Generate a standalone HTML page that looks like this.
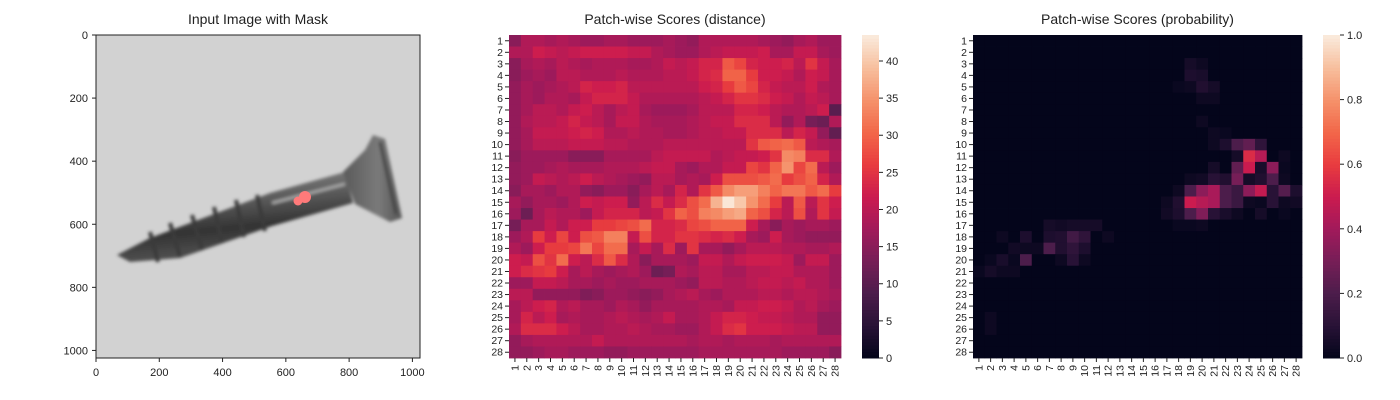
<!DOCTYPE html>
<html><head><meta charset="utf-8">
<style>
html,body{margin:0;padding:0;background:#fff;}
svg{display:block;font-family:"Liberation Sans",Arial,sans-serif;}
</style></head>
<body>
<svg id="fig" width="1400" height="400" viewBox="0 0 1400 400" xmlns="http://www.w3.org/2000/svg">
<defs>
<filter id="blur1"><feGaussianBlur stdDeviation="1.5"/></filter>
<linearGradient id="shaftg" x1="0" y1="0" x2="0.25" y2="1">
<stop offset="0" stop-color="#909090"/><stop offset="0.35" stop-color="#666"/><stop offset="0.7" stop-color="#333"/><stop offset="1" stop-color="#555"/></linearGradient>
<linearGradient id="headg" x1="0" y1="0" x2="1" y2="0">
<stop offset="0" stop-color="#5a5a5a"/><stop offset="0.6" stop-color="#7a7a7a"/><stop offset="1" stop-color="#555"/></linearGradient>
</defs>

<!-- Panel 1 -->
<g>
<text x="258" y="24" font-size="14" text-anchor="middle" fill="#222">Input Image with Mask</text>
<rect x="96" y="35" width="324" height="323" fill="#d2d2d2"/>
<g filter="url(#blur1)">
<polygon points="117,255 150,238 270,193 345,172 353,203 272,226 180,258 130,262" fill="url(#shaftg)"/>
<polygon points="343,172 365,150 373,135 385,139 402,218 390,222 355,204" fill="url(#headg)"/>
<line x1="380" y1="142" x2="396" y2="214" stroke="#444" stroke-width="3"/>
<g stroke="#3b3b3b" stroke-width="4" fill="none">
<line x1="150" y1="232" x2="158" y2="262"/>
<line x1="170" y1="223" x2="180" y2="257"/>
<line x1="192" y1="215" x2="202" y2="250"/>
<line x1="214" y1="207" x2="222" y2="243"/>
<line x1="236" y1="200" x2="244" y2="237"/>
<line x1="257" y1="195" x2="265" y2="231"/>
</g>
<line x1="272" y1="203" x2="345" y2="184" stroke="#a5a5a5" stroke-width="3"/>
</g>
<g fill="#ff7a7a">
<circle cx="305" cy="197" r="6"/><circle cx="298" cy="201" r="4.5"/>
</g>
<rect x="96" y="35" width="324" height="323" fill="none" stroke="#222" stroke-width="1"/>
<g id="imgAxes"></g>
</g>

<g id="distPanel"></g>
<g id="probPanel"></g>
</svg>

<script>
const NS="http://www.w3.org/2000/svg";
// ---- data ----
const imgXTicks=[0,200,400,600,800,1000];
const imgYTicks=[0,200,400,600,800,1000];
const distCbTicks=[0,5,10,15,20,25,30,35,40];
const probCbTicks=[0,0.2,0.4,0.6,0.8,1.0];
const distRows=[
[15,19,19,18,19,18,17,17,18,18,17,17,17,18,17,16,19,19,19,19,19,18,17,16,18,19,17,17],
[19,19,22,21,20,21,22,22,22,22,21,21,19,18,17,17,19,20,21,21,21,22,18,18,21,21,18,17],
[15,18,19,18,20,19,18,19,19,19,18,18,19,21,20,21,23,23,29,27,23,22,22,23,20,25,21,18],
[15,17,18,17,20,20,19,19,19,20,19,19,19,20,20,21,23,24,30,30,26,22,22,21,19,22,21,18],
[16,18,17,18,19,20,23,22,22,23,20,20,20,20,20,20,22,23,26,29,27,23,21,20,20,22,19,18],
[16,18,17,19,19,18,21,23,23,23,21,19,19,19,19,19,20,21,23,25,25,24,22,21,19,21,20,18],
[16,18,20,20,19,21,22,20,18,20,21,18,17,17,17,18,20,20,20,23,23,22,20,19,19,20,22,10],
[16,19,20,20,21,23,21,20,18,21,21,19,18,18,18,19,20,21,21,24,24,24,20,16,19,13,12,19],
[16,18,21,21,21,22,23,22,19,19,20,19,19,18,18,19,20,20,21,21,24,24,24,20,23,21,16,11],
[16,18,20,20,20,21,21,21,20,20,19,19,19,20,20,20,20,20,20,20,25,29,30,31,29,20,19,18],
[15,17,17,17,17,15,15,15,18,18,18,18,20,21,21,21,21,19,20,21,21,22,25,34,33,24,24,19],
[16,17,17,18,19,18,18,18,19,19,19,20,21,21,18,17,19,19,21,21,27,25,30,35,27,31,20,17],
[16,17,21,20,19,20,22,20,19,18,17,16,20,20,18,19,18,22,28,28,28,29,31,26,28,30,23,19],
[15,18,18,17,19,19,16,15,17,17,15,18,20,18,23,19,25,29,34,36,36,33,30,32,32,29,31,26],
[18,16,18,18,17,19,22,21,22,22,16,20,24,21,24,28,31,38,43,40,35,31,26,20,29,20,25,22],
[17,12,18,20,19,19,17,21,23,23,23,20,21,25,30,28,33,34,36,37,30,28,23,20,28,19,25,21],
[13,18,18,21,19,22,22,26,26,27,28,31,23,23,24,27,28,30,30,30,22,18,15,18,17,18,18,17],
[17,19,26,22,27,22,28,29,33,33,21,28,23,23,25,25,24,23,24,22,18,17,22,18,17,16,16,16],
[19,17,22,26,26,27,32,27,31,31,18,21,18,24,17,25,18,18,16,18,20,20,20,19,19,18,18,19],
[22,21,28,25,31,22,20,24,29,24,19,15,18,18,18,17,21,21,19,21,22,22,22,21,17,21,21,17],
[22,24,25,26,22,18,20,18,17,18,19,17,12,13,19,18,20,20,18,18,20,20,21,21,19,19,19,17],
[17,17,21,21,20,18,18,17,18,17,17,18,18,18,17,16,20,20,19,19,20,21,21,20,21,19,19,17],
[20,20,16,16,16,16,14,15,17,17,16,15,16,18,19,20,18,17,19,19,19,20,20,19,20,20,19,18],
[18,20,22,23,19,20,18,18,17,19,18,16,18,18,18,18,19,19,18,21,21,22,22,21,19,20,18,17],
[18,23,20,22,18,19,18,18,19,20,19,18,19,21,18,18,19,21,23,23,22,21,21,20,19,19,16,16],
[19,24,24,24,22,20,18,18,19,19,20,19,18,18,17,17,19,21,24,25,22,22,22,21,20,20,16,16],
[16,18,19,19,19,19,19,21,19,19,19,19,19,19,19,18,19,19,18,19,19,19,18,19,19,19,19,19],
[16,16,17,18,18,17,17,17,16,16,17,17,17,17,17,17,18,18,18,18,18,18,18,17,17,17,17,15]
];
const distMax=43.5;
// sparse probability map: row, column (1-based), value
const probRowIdx=[3,3,4,4,5,5,5,5,6,6,8,9,9,10,10,10,10,10,11,11,11,11,12,12,12,12,12,12,13,13,13,13,13,13,13,13,13,14,14,14,14,14,14,14,14,14,14,14,15,15,15,15,15,15,15,15,15,15,15,15,16,16,16,16,16,16,16,16,16,17,17,17,17,17,17,17,17,18,18,18,18,18,18,18,19,19,19,19,19,19,19,20,20,20,20,20,20,20,21,21,21,21,25,26];
const probColIdx=[19,20,19,20,18,19,20,21,20,21,20,21,22,21,22,23,24,25,23,24,25,27,21,23,24,25,26,27,19,20,21,22,23,24,25,26,27,18,19,20,21,22,23,24,25,26,27,28,17,18,19,20,21,22,23,24,25,26,27,28,17,18,19,20,21,22,23,25,27,7,8,9,10,11,18,19,20,3,5,7,8,9,10,12,4,5,6,7,8,9,10,2,3,4,5,8,9,10,1,2,3,4,2,2];
const probVals=[0.05,0.03,0.07,0.06,0.02,0.03,0.08,0.05,0.03,0.03,0.03,0.03,0.02,0.03,0.07,0.2,0.25,0.12,0.05,0.55,0.45,0.03,0.05,0.25,0.5,0.06,0.35,0.02,0.03,0.04,0.1,0.08,0.3,0.05,0.08,0.2,0.03,0.03,0.2,0.35,0.42,0.2,0.15,0.35,0.48,0.1,0.22,0.07,0.03,0.08,0.5,0.45,0.42,0.2,0.15,0.03,0.02,0.1,0.03,0.04,0.04,0.07,0.2,0.32,0.1,0.06,0.03,0.05,0.02,0.05,0.04,0.05,0.05,0.05,0.02,0.02,0.03,0.03,0.07,0.07,0.08,0.17,0.12,0.03,0.04,0.03,0.03,0.2,0.08,0.12,0.07,0.02,0.06,0.02,0.2,0.03,0.1,0.03,0.02,0.05,0.03,0.03,0.03,0.03];

// ---- rocket colormap ----
const rocket=[[0,[3,5,26]],[0.1,[40,18,54]],[0.2,[76,29,75]],[0.3,[118,30,87]],[0.4,[161,26,91]],[0.5,[203,27,79]],[0.6,[232,60,63]],[0.7,[242,103,73]],[0.8,[245,146,107]],[0.9,[247,191,158]],[1,[250,235,221]]];
function cmap(t){t=Math.max(0,Math.min(1,t));
 for(let i=1;i<rocket.length;i++){if(t<=rocket[i][0]){const a=rocket[i-1],b=rocket[i];const f=(t-a[0])/(b[0]-a[0]);
 return "rgb("+a[1].map((v,k)=>Math.round(v+(b[1][k]-v)*f)).join(",")+")";}}
 return "rgb(250,235,221)";}
function el(tag,attrs,parent){const e=document.createElementNS(NS,tag);for(const k in attrs)e.setAttribute(k,attrs[k]);parent.appendChild(e);return e;}

// ---- image axes ticks ----
const ia=document.getElementById('imgAxes');
const ix=v=>96+v*(324/1024), iy=v=>35+v*(323/1024);
imgXTicks.forEach(v=>{const x=ix(v);
 const t=el('line',{x1:x,y1:358,x2:x,y2:362,stroke:'#222'},ia);
 
 
 const l=el('text',{x:x,y:376,'font-size':11,'text-anchor':'middle',fill:'#222'},ia);l.textContent=v;
 
 });
imgYTicks.forEach(v=>{const y=iy(v);
 const t=el('line',{x1:92,y1:y,x2:96,y2:y,stroke:'#222'},ia);
 
 
 const l=el('text',{x:88,y:y+4,'font-size':11,'text-anchor':'end',fill:'#222'},ia);l.textContent=v;
 
 });

// ---- heatmap builder ----
function heatmap(g,x0,y0,w,h,valueAt,title,cbx,cbTicks,cbMax,fmt){
 const n=28,cw=w/n,ch=h/n;
 const tt=el('text',{x:x0+w/2,y:24,'font-size':14,'text-anchor':'middle',fill:'#222'},g);tt.textContent=title;
 
 
 for(let r=0;r<n;r++)for(let c=0;c<n;c++){
  const rc=el('rect',{x:(x0+c*cw).toFixed(2),y:(y0+r*ch).toFixed(2),width:(cw+0.4).toFixed(2),height:(ch+0.4).toFixed(2),fill:cmap(valueAt(r,c)/cbMax)},g);
  
  }
 for(let i=0;i<n;i++){
  const y=y0+(i+0.5)*ch;
  el('line',{x1:x0-4,y1:y,x2:x0,y2:y,stroke:'#222'},g);
  const l=el('text',{x:x0-6,y:y+3.5,'font-size':10.5,'text-anchor':'end',fill:'#222'},g);l.textContent=i+1;
  
  
  const x=x0+(i+0.5)*cw;
  el('line',{x1:x,y1:y0+h,x2:x,y2:y0+h+4,stroke:'#222'},g);
  const m=el('text',{x:x+3.5,y:y0+h+7,'font-size':10.5,'text-anchor':'end',fill:'#222',transform:'rotate(-90 '+(x+3.5)+' '+(y0+h+7)+')'},g);m.textContent=i+1;
  
  }
 // colorbar
 const cb=el('g',{},g);
 
 
 const steps=100;
 for(let s=0;s<steps;s++){const t0=s/steps;
  el('rect',{x:cbx,y:(y0+h-(s+1)*h/steps).toFixed(2),width:17,height:(h/steps+0.5).toFixed(2),fill:cmap(t0+0.5/steps)},cb);}
 cbTicks.forEach(v=>{const y=y0+h-v/cbMax*h;
  el('line',{x1:cbx+17,y1:y,x2:cbx+21,y2:y,stroke:'#222'},cb);
  const l=el('text',{x:cbx+24,y:y+4,'font-size':11,fill:'#222'},cb);l.textContent=fmt(v);
  
  });
}
heatmap(document.getElementById('distPanel'),509,35,332,323,(r,c)=>distRows[r][c],'Patch-wise Scores (distance)',862,distCbTicks,distMax,v=>String(v));
const probGrid=[];for(let r=0;r<28;r++){probGrid.push(new Array(28).fill(0.003));}
probVals.forEach((v,i)=>{probGrid[probRowIdx[i]-1][probColIdx[i]-1]=v;});
heatmap(document.getElementById('probPanel'),973,35,329,323,(r,c)=>probGrid[r][c],'Patch-wise Scores (probability)',1323,probCbTicks,1,v=>v.toFixed(1));
</script>
</body></html>
